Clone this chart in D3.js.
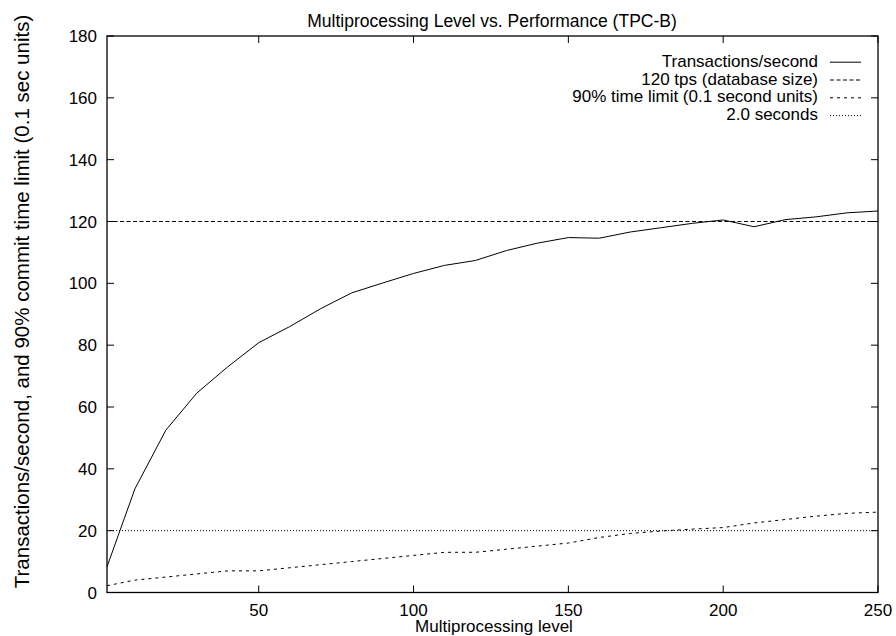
<!DOCTYPE html>
<html><head><meta charset="utf-8">
<script src="https://cdn.jsdelivr.net/npm/d3@7"></script>
<style>
html,body{margin:0;padding:0;background:#fff;}
text{font-family:"Liberation Sans",Arial,Helvetica,sans-serif;fill:#000;}
</style></head>
<body><svg id="c" width="896" height="636"></svg>
<script>
const levels = [1,10,20,30,40,50,60,70,80,90,100,110,120,130,140,150,160,170,180,190,200,210,220,230,240,250];
const tps = [8.3,33.5,52.5,64.5,73,80.8,86,91.8,96.9,100.1,103.2,105.8,107.4,110.6,113,114.8,114.6,116.6,118,119.4,120.5,118.3,120.6,121.5,122.8,123.4];
const commitLimit = [2.2,4,5,6,7,7,8,9,10,11,12,13,13,14,15,16,17.8,19.1,19.9,20.5,21,22.5,23.6,24.7,25.6,26];
const dbSize = 120;
const twoSeconds = 20;
const xTicks = [50,100,150,200,250];
const yTicks = [0,20,40,60,80,100,120,140,160,180];
const legendLabels = ["Transactions/second","120 tps (database size)","90% time limit (0.1 second units)","2.0 seconds"];
const dashes = [null,"4,2.5","3,4","1,2"];

const svg = d3.select("#c");
const L=107,R=878,T=36,B=592.5;
const x = d3.scaleLinear().domain([1,250]).range([L,R]);
const y = d3.scaleLinear().domain([0,180]).range([B,T]);
const fs = 17;

// title
svg.append("text").attr("x",492).attr("y",26.5).attr("text-anchor","middle")
  .style("font-size","17.5px").text("Multiprocessing Level vs. Performance (TPC-B)");

// ticks (inward, mirrored)
const tl=7;
const g = svg.append("g").attr("stroke","#000").attr("stroke-width",1);
yTicks.forEach(v=>{
  g.append("line").attr("x1",L).attr("x2",L+tl).attr("y1",y(v)).attr("y2",y(v));
  g.append("line").attr("x1",R).attr("x2",R-tl).attr("y1",y(v)).attr("y2",y(v));
});
xTicks.forEach(v=>{
  g.append("line").attr("x1",x(v)).attr("x2",x(v)).attr("y1",B).attr("y2",B-tl);
  g.append("line").attr("x1",x(v)).attr("x2",x(v)).attr("y1",T).attr("y2",T+tl);
});
yTicks.forEach(v=>{
  svg.append("text").attr("x",97).attr("y",y(v)+6).attr("text-anchor","end")
    .style("font-size",fs+"px").text(v);
});
xTicks.forEach(v=>{
  svg.append("text").attr("x",x(v)).attr("y",615.5).attr("text-anchor","middle")
    .style("font-size",fs+"px").text(v);
});

// axis labels
svg.append("text").attr("x",494).attr("y",632).attr("text-anchor","middle")
  .style("font-size",fs+"px").text("Multiprocessing level");
svg.append("text").attr("transform","translate(29,301.5) rotate(-90)").attr("text-anchor","middle")
  .style("font-size","20.5px").text("Transactions/second, and 90% commit time limit (0.1 sec units)");

// lines
const line = d3.line().x(d=>x(d[0])).y(d=>y(d[1]));
svg.append("path").datum(levels.map((l,i)=>[l,tps[i]])).attr("d",line)
  .attr("fill","none").attr("stroke","#000").attr("stroke-width",1);
svg.append("path").datum([[1,dbSize],[250,dbSize]]).attr("d",line)
  .attr("fill","none").attr("stroke","#000").attr("stroke-width",1).attr("stroke-dasharray",dashes[1]);
svg.append("path").datum(levels.map((l,i)=>[l,commitLimit[i]])).attr("d",line)
  .attr("fill","none").attr("stroke","#000").attr("stroke-width",1).attr("stroke-dasharray",dashes[2]);
svg.append("path").datum([[1,twoSeconds],[250,twoSeconds]]).attr("d",line)
  .attr("fill","none").attr("stroke","#000").attr("stroke-width",1).attr("stroke-dasharray",dashes[3]);

// frame
svg.append("rect").attr("x",L).attr("y",T).attr("width",R-L).attr("height",B-T)
  .attr("fill","none").attr("stroke","#000").attr("stroke-width",1.3);

// legend
legendLabels.forEach((lab,i)=>{
  const by = 66.7 + i*17.8;
  svg.append("text").attr("x",818).attr("y",by).attr("text-anchor","end")
    .style("font-size",fs+"px").text(lab);
  const ln = svg.append("line").attr("x1",830).attr("x2",861).attr("y1",by-4.5).attr("y2",by-4.5)
    .attr("stroke","#000").attr("stroke-width",1);
  if(dashes[i]) ln.attr("stroke-dasharray",dashes[i]);
});
</script></body></html>
